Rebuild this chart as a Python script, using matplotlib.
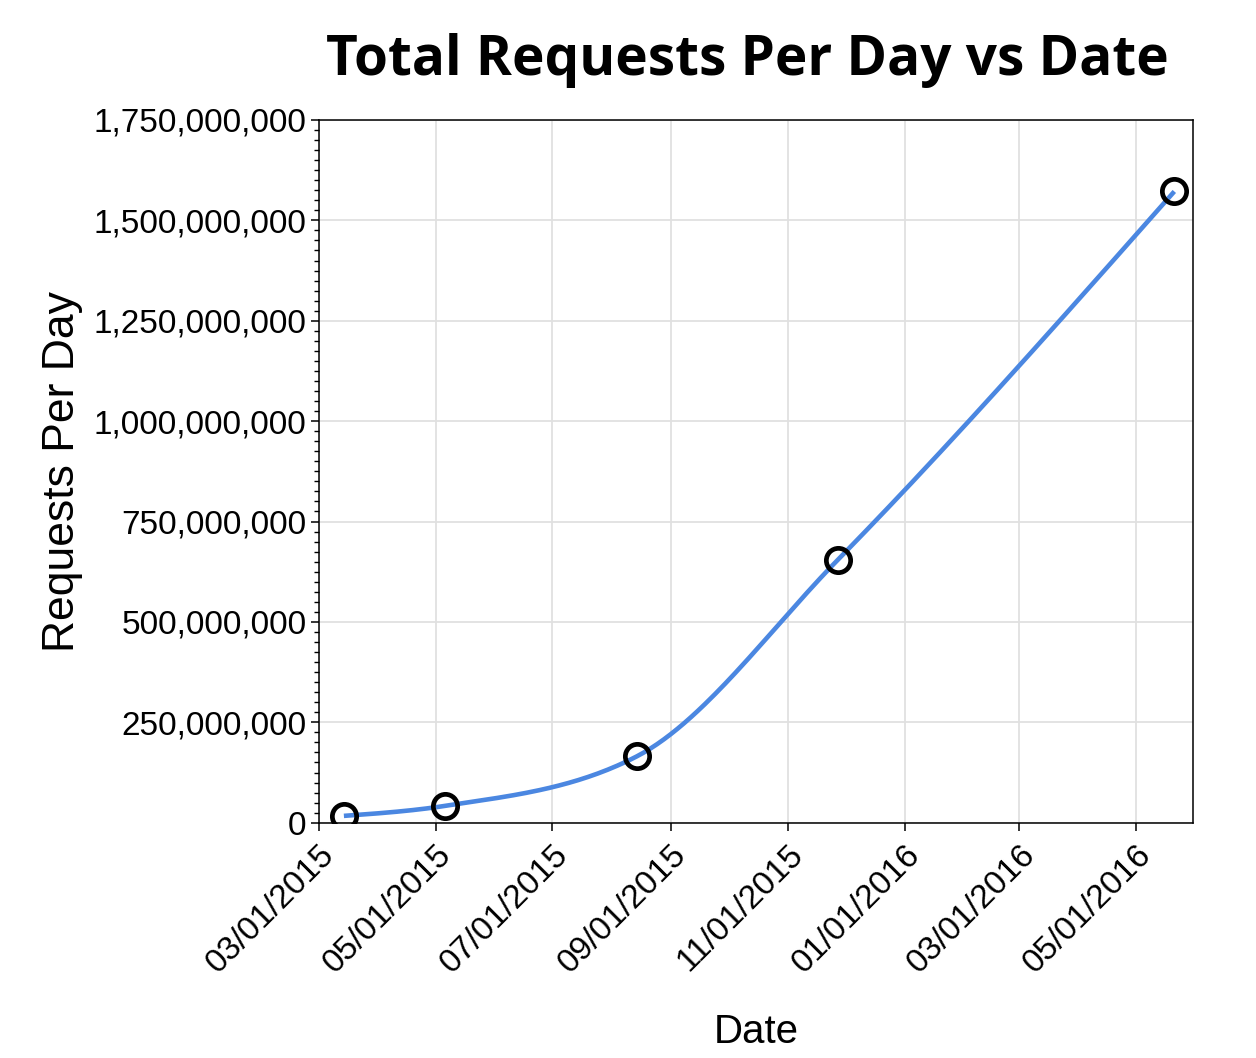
import numpy as np
import matplotlib
matplotlib.use("Agg")
import matplotlib.pyplot as plt
import matplotlib.dates as mdates
import matplotlib.ticker as mticker
from datetime import datetime

# ---- data ----
dates = ["2015-03-14", "2015-05-06", "2015-08-14", "2015-11-27", "2016-05-21"]
requests_per_day = [17e6, 42e6, 165e6, 654e6, 1572e6]
x_ticks = ["2015-03-01", "2015-05-01", "2015-07-01", "2015-09-01",
           "2015-11-01", "2016-01-01", "2016-03-01", "2016-05-01"]
x_domain = ["2015-03-01", "2016-05-31"]
y_domain = [0, 1.75e9]

title = "Total Requests Per Day vs Date"
x_label = "Date"
y_label = "Requests Per Day"

LINE = "#4b87e1"
FONT = ["Liberation Sans", "DejaVu Sans"]


def monotone_x(xs, ys, n=60):
    """d3 curveMonotoneX rendering of the line through the points."""
    xs = np.asarray(xs, float)
    ys = np.asarray(ys, float)
    m = len(xs)
    h = np.diff(xs)
    s = np.diff(ys) / h
    t = np.zeros(m)
    for i in range(1, m - 1):
        p = (s[i - 1] * h[i] + s[i] * h[i - 1]) / (h[i - 1] + h[i])
        t[i] = (np.sign(s[i - 1]) + np.sign(s[i])) * min(abs(s[i - 1]), abs(s[i]), 0.5 * abs(p))
    t[0] = (3 * s[0] - t[1]) / 2
    t[-1] = (3 * s[-1] - t[-2]) / 2
    out_x, out_y = [], []
    for i in range(m - 1):
        dx = h[i] / 3
        P0 = np.array([xs[i], ys[i]])
        P1 = np.array([xs[i] + dx, ys[i] + dx * t[i]])
        P2 = np.array([xs[i + 1] - dx, ys[i + 1] - dx * t[i + 1]])
        P3 = np.array([xs[i + 1], ys[i + 1]])
        u = np.linspace(0, 1, n)[:, None]
        B = ((1 - u) ** 3) * P0 + 3 * ((1 - u) ** 2) * u * P1 + 3 * (1 - u) * u ** 2 * P2 + u ** 3 * P3
        out_x.extend(B[:, 0])
        out_y.extend(B[:, 1])
    return np.array(out_x), np.array(out_y)


xd = mdates.date2num([datetime.fromisoformat(d) for d in dates])
yd = np.array(requests_per_day)

fig = plt.figure(figsize=(12.56, 10.58), dpi=100)
ax = fig.add_axes([0.254, 0.2224, 0.6962, 0.6642])

cx, cy = monotone_x(xd, yd)
ax.plot(cx, cy, color=LINE, lw=3.3, solid_capstyle="butt", zorder=3)
ax.plot(xd, yd, linestyle="none", marker="o", markersize=17.5, markerfacecolor="none",
        markeredgecolor="black", markeredgewidth=3.4, zorder=4)

ax.set_xlim(mdates.date2num([datetime.fromisoformat(d) for d in x_domain]))
ax.set_ylim(*y_domain)

ax.set_xticks(mdates.date2num([datetime.fromisoformat(d) for d in x_ticks]))
ax.xaxis.set_major_formatter(mdates.DateFormatter("%m/%d/%Y"))
ax.yaxis.set_major_locator(mticker.MultipleLocator(250e6))
ax.yaxis.set_minor_locator(mticker.MultipleLocator(25e6))
ax.yaxis.set_major_formatter(mticker.FuncFormatter(lambda v, p: f"{int(round(v)):,}"))

ax.grid(True, which="major", color="#e0e0e0", lw=1.3)
ax.set_axisbelow(True)
for sp in ax.spines.values():
    sp.set_color("black")
    sp.set_linewidth(1.1)

ax.tick_params(axis="both", which="major", length=6, width=1.1, color="black", pad=3)
ax.tick_params(axis="x", which="major", pad=6)
ax.tick_params(axis="y", which="minor", length=3.5, width=1.0, color="black")
for lab in ax.get_yticklabels():
    lab.set_fontfamily(FONT)
    lab.set_fontsize(24)
for lab in ax.get_xticklabels():
    lab.set_fontfamily(FONT)
    lab.set_fontsize(24)
    lab.set_rotation(45)
    lab.set_ha("right")
    lab.set_va("top")
    lab.set_rotation_mode("anchor")

ax.set_xlabel(x_label, fontsize=29, family=FONT, labelpad=24)
ax.set_ylabel(y_label, fontsize=32, family=FONT, labelpad=8)

fig.text(747 / 1256, 1 - 61 / 1058, title, fontsize=39.5, fontweight="bold",
         family=["Open Sans", "DejaVu Sans"], ha="center", va="center")

fig.savefig("out.png", dpi=100)
